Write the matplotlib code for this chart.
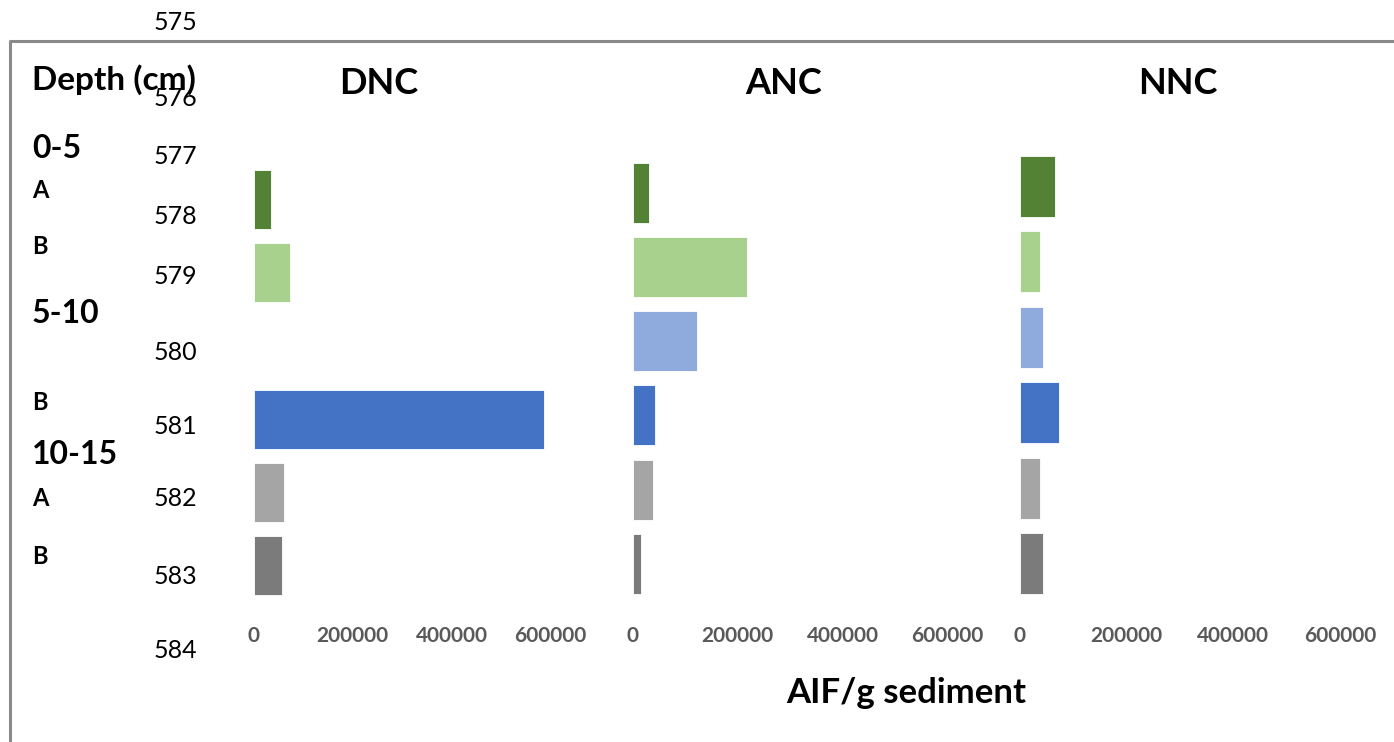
import matplotlib
matplotlib.use('Agg')
import matplotlib.pyplot as plt
from matplotlib.lines import Line2D

plt.rcParams['font.family'] = ['Lato', 'DejaVu Sans']

W, H, DPI = 1394, 742, 100

# AIF per gram of sediment, one value per depth/replicate row (top to bottom)
rows = ['0-5 A', '0-5 B', '5-10 A', '5-10 B', '10-15 A', '10-15 B']
dnc = [35000, 73000, 0, 586000, 61000, 58000]
anc = [32000, 218000, 123000, 42000, 39000, 17000]
nnc = [66000, 37500, 44000, 74000, 37500, 44000]
panel_names = ['DNC', 'ANC', 'NNC']
x_ticks = [0, 200000, 400000, 600000]

row_colors = ['#548235', '#A9D18E', '#8FAADC', '#4472C4', '#A5A5A5', '#7B7B7B']

# left labels down the side: (text, y in px, size)
side_labels = [('Depth (cm)', 80, 24), ('0-5', 148, 23), ('A', 191, 17), ('B', 246, 17),
               ('5-10', 314, 23), ('B', 402, 17), ('10-15', 454, 23), ('A', 498, 17), ('B', 556, 17)]
line_numbers = ['575', '576', '577', '578', '579', '580', '581', '582', '583', '584']
line_number_y = [23, 98, 157, 216, 276, 352, 426, 499, 576, 651]


def px_box(left, top, right, bottom):
    return [left / W, 1 - bottom / H, (right - left) / W, (bottom - top) / H]


fig = plt.figure(figsize=(W / DPI, H / DPI), dpi=DPI)

# frame around the chart area
fig.add_artist(Line2D([10 / W, 10 / W, 1.0], [0.0, 1 - 41 / H, 1 - 41 / H],
                      transform=fig.transFigure, color='#8a8a8a', lw=2.2))

boxes = [(253.5, 162.9, 550.5, 602.4), (632.5, 155.7, 947.5, 600.9), (1020, 148.8, 1340, 601.2)]
title_x = [379, 784, 1178]
tick_label_top = 626

for values, name, box, tx in zip([dnc, anc, nnc], panel_names, boxes, title_x):
    ax = fig.add_axes(px_box(*box))
    ax.barh(range(len(rows)), values, height=0.81, color=row_colors,
            edgecolor='white', linewidth=0.6)
    ax.set_xlim(0, 600000)
    ax.set_ylim(len(rows) - 0.5, -0.5)
    ax.set_yticks([])
    ax.set_xticks(x_ticks)
    ax.set_xticklabels([str(t) for t in x_ticks])
    pad = (tick_label_top - box[3]) * 72 / DPI
    ax.tick_params(axis='x', length=0, pad=pad, labelsize=15, labelcolor='#595959')
    for lbl in ax.get_xticklabels():
        lbl.set_fontweight('bold')
    for s in ax.spines.values():
        s.set_visible(False)
    fig.text(tx / W, 1 - 84 / H, name, ha='center', va='center',
             fontsize=26, fontweight='bold', color='black')

fig.text(906 / W, 1 - 693 / H, 'AIF/g sediment', ha='center', va='center',
         fontsize=25, fontweight='bold', color='black')

for txt, y, size in side_labels:
    fig.text(32 / W, 1 - y / H, txt, ha='left', va='center',
             fontsize=size, fontweight='bold', color='black')

for num, y in zip(line_numbers, line_number_y):
    fig.text(175 / W, 1 - y / H, num, ha='center', va='center',
             fontsize=18, color='black')

fig.savefig('out.png', dpi=DPI)
